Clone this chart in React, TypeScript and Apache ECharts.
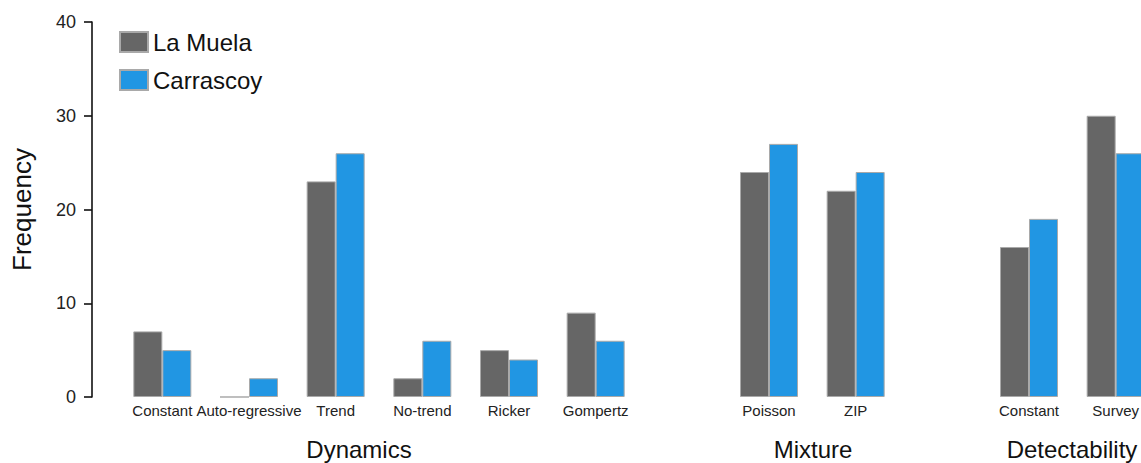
import React, { useEffect, useRef } from "react";
import * as echarts from "echarts";

// Model components, with blank slots separating the three groups
const categories = [
  "Constant", "Auto-regressive", "Trend", "No-trend", "Ricker", "Gompertz",
  "",
  "Poisson", "ZIP",
  "",
  "Constant", "Survey",
];
const laMuela = [7, 0, 23, 2, 5, 9, null, 24, 22, null, 16, 30];
const carrascoy = [5, 2, 26, 6, 4, 6, null, 27, 24, null, 19, 26];
const groupLabels = ["Dynamics", "Mixture", "Detectability"];
const groupCenters = [359, 813, 1072];
const yTicks = { min: 0, max: 40, interval: 10 };

const FONT = "Liberation Sans, Arial, sans-serif";

export default function App() {
  const ref = useRef<HTMLDivElement>(null);

  useEffect(() => {
    if (!ref.current) return;
    const chart = echarts.init(ref.current, undefined, { renderer: "svg" });
    chart.setOption({
      animation: false,
      textStyle: { fontFamily: FONT },
      grid: { left: 119, top: 22, height: 375, width: 1040 },
      legend: {
        orient: "vertical",
        left: 114,
        top: 25,
        itemWidth: 28,
        itemHeight: 20,
        itemGap: 14,
        icon: "rect",
        textStyle: { fontSize: 24, color: "#111", fontFamily: FONT },
        data: ["La Muela", "Carrascoy"],
      },
      xAxis: {
        type: "category",
        data: categories,
        axisLine: { show: false },
        axisTick: { show: false },
        axisLabel: { fontSize: 15, color: "#222", margin: 6, fontFamily: FONT, interval: 0 },
      },
      yAxis: {
        type: "value",
        min: yTicks.min,
        max: yTicks.max,
        interval: yTicks.interval,
        offset: 27,
        name: "Frequency",
        nameLocation: "middle",
        nameGap: 57,
        nameTextStyle: { fontSize: 26, color: "#111", fontFamily: FONT },
        splitLine: { show: false },
        axisLine: { show: true, lineStyle: { color: "#111", width: 1.6 } },
        axisTick: { show: true, length: 8, lineStyle: { color: "#111", width: 1.6 } },
        axisLabel: { fontSize: 18, color: "#222", margin: 16, fontFamily: FONT },
      },
      series: [
        {
          name: "La Muela",
          type: "bar",
          data: laMuela,
          barWidth: 29,
          barGap: "0%",
          itemStyle: { color: "#666666", borderColor: "#a9a9a9", borderWidth: 1 },
        },
        {
          name: "Carrascoy",
          type: "bar",
          data: carrascoy,
          barWidth: 29,
          itemStyle: { color: "#2196e3", borderColor: "#a9a9a9", borderWidth: 1 },
        },
      ],
      graphic: groupLabels.map((t, i) => ({
        type: "text",
        x: groupCenters[i],
        y: 449,
        style: {
          text: t,
          fontSize: 24,
          fontFamily: FONT,
          fill: "#111",
          textAlign: "center",
          textVerticalAlign: "middle",
        },
      })),
    });
    return () => chart.dispose();
  }, []);

  return (
    <div
      style={{
        position: "fixed",
        left: 0,
        top: 0,
        width: 1141,
        height: 463,
        overflow: "hidden",
        background: "#fff",
      }}
    >
      <div ref={ref} style={{ width: 1200, height: 463 }} />
    </div>
  );
}
